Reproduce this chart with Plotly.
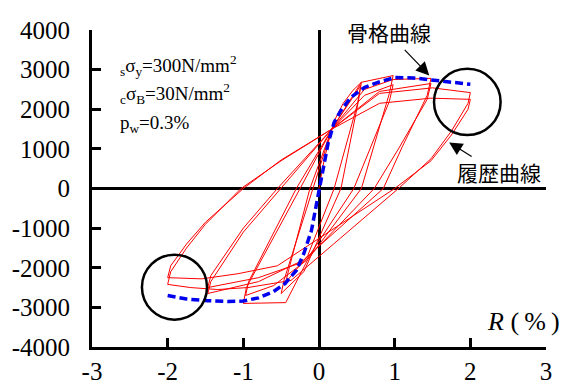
import plotly.graph_objects as go

# Skeleton curve (blue dashed)
R_skeleton = [-2.0, -1.75, -1.47, -1.2, -1.0, -0.8, -0.6, -0.45, -0.3, -0.2, -0.1, -0.04, 0.0,
              0.05, 0.12, 0.2, 0.29, 0.42, 0.6, 0.78, 1.0, 1.25, 1.48, 1.75, 2.0]
M_skeleton = [-2700, -2790, -2830, -2850, -2840, -2760, -2600, -2400, -2070, -1640, -1060, -480, 0,
              500, 1140, 1670, 1970, 2300, 2550, 2680, 2800, 2790, 2740, 2690, 2630]

# Hysteresis curve (red), read in loading order
R_hyst = [0.0, 0.05, 0.12, 0.2, 0.32, 0.45, 0.56,
          0.52, 0.29, -0.05, -0.2, -0.5,
          -0.46, -0.08, 0.17, 0.55,
          0.51, 0.2, -0.15, -0.44,
          -0.4, -0.12, 0.17, 0.56, 0.98,
          0.93, 0.56, -0.15, -0.44, -1.0,
          -0.96, -0.25, 0.17, 0.6, 0.98,
          0.93, 0.46, -0.17, -0.6, -0.97,
          -0.93, -0.3, 0.17, 0.6, 0.98, 1.48,
          1.43, 1.1, 0.85, -0.2, -0.8, -1.47,
          -1.43, -1.0, -0.5, 0.17, 0.8, 1.48,
          1.43, 1.05, 0.73, -0.2, -0.8, -1.47,
          -1.43, -1.0, -0.55, 0.17, 0.8, 1.5, 2.0,
          1.97, 1.75, 1.48, 1.05, -0.37, -0.94, -1.34, -1.7, -2.0,
          -1.96, -1.75, -1.5, -1.03, -0.5, 0.17, 0.8, 1.48, 2.0,
          1.97, 1.75, 1.48, 1.0, -0.55, -1.07, -1.55, -2.0,
          -1.96, -1.75, -1.5, -1.0, -0.5, 0.17]
M_hyst = [0, 550, 1150, 1700, 2150, 2480, 2680,
          2200, 0, -1450, -2100, -2650,
          -2300, 0, 1500, 2600,
          2150, 0, -1700, -2370,
          -2050, 0, 1500, 2680, 2850,
          2400, 0, -1800, -2880, -2900,
          -2500, 0, 1500, 2350, 2620,
          2200, 0, -1820, -2450, -2700,
          -2350, 0, 1500, 2500, 2750, 2780,
          2350, 1050, 0, -1800, -2350, -2650,
          -2350, -1100, 0, 1500, 2450, 2650,
          2250, 1000, 0, -1850, -2250, -2500,
          -2200, -1000, 0, 1500, 2400, 2540, 2420,
          2150, 1450, 750, 0, -2320, -2500, -2550, -2500, -2420,
          -2100, -1500, -900, 0, 700, 1500, 2150, 2280, 2250,
          2000, 1350, 700, 0, -1950, -2150, -2280, -2250,
          -1950, -1400, -850, 0, 720, 1500]

x_ticks = [-3, -2, -1, 0, 1, 2, 3]
x_ticktext = ["-3", "-2", "-1", "0", "1", "2", "3"]
y_ticks = [-4000, -3000, -2000, -1000, 0, 1000, 2000, 3000, 4000]
y_ticktext = ["-4000", "-3000", "-2000", "-1000", "0", "1000", "2000", "3000", "4000"]

SERIF = "Liberation Serif, Times New Roman, serif"
JP = "Noto Sans CJK JP"

fig = go.Figure()
fig.add_trace(go.Scatter(x=R_hyst, y=M_hyst, mode="lines",
                         line=dict(color="#ff0000", width=1), hoverinfo="skip"))
fig.add_trace(go.Scatter(x=R_skeleton, y=M_skeleton, mode="lines",
                         line=dict(color="#0000ee", width=3.5, dash="8px,4px"), hoverinfo="skip"))

axis_common = dict(showgrid=False, ticks="inside", ticklen=9, tickwidth=3, tickcolor="black",
                   showline=True, linewidth=3, linecolor="black", mirror=False, automargin=False,
                   zeroline=True, zerolinewidth=3, zerolinecolor="black",
                   tickfont=dict(family=SERIF, size=25, color="black"))

fig.update_layout(
    width=565, height=385, margin=dict(l=92, r=19, t=30, b=38, autoexpand=False),
    font=dict(family=SERIF, color="black"),
    paper_bgcolor="white", plot_bgcolor="white", showlegend=False,
    xaxis=dict(range=[-3, 3], tickvals=x_ticks, ticktext=x_ticktext, ticklabelstandoff=0, **axis_common),
    yaxis=dict(range=[-4000, 4000], tickvals=y_ticks, ticktext=y_ticktext, ticklabelstandoff=14, **axis_common),
)

# circles
fig.add_shape(type="circle", xref="x", yref="y", x0=1.52, x1=2.40, y0=1350, y1=3020,
              line=dict(color="black", width=2.5))
fig.add_shape(type="circle", xref="x", yref="y", x0=-2.34, x1=-1.48, y0=-3310, y1=-1670,
              line=dict(color="black", width=2.5))

ann = [
    dict(x=-2.09, y=4116, text="<i>M(kNm)</i>", font=dict(family=SERIF, size=26)),
    dict(x=-2.65, y=3106, text="<sub>s</sub>σ<sub>y</sub>=300N/mm<sup>2</sup>", xanchor="left",
         font=dict(family=SERIF, size=19)),
    dict(x=-2.65, y=2399, text="<sub>c</sub>σ<sub>B</sub>=30N/mm<sup>2</sup>", xanchor="left",
         font=dict(family=SERIF, size=19)),
    dict(x=-2.65, y=1616, text="p<sub>w</sub>=0.3%", xanchor="left",
         font=dict(family=SERIF, size=19)),
    dict(x=0.93, y=3939, text="骨格曲線", font=dict(family=JP, size=21)),
    dict(x=2.38, y=429, text="履歴曲線", font=dict(family=JP, size=21)),
]
for a in ann:
    a.setdefault("xanchor", "center")
    a["font"]["color"] = "black"
    fig.add_annotation(xref="x", yref="y", showarrow=False, **a)

fig.add_annotation(xref="paper", yref="paper", x=1.035, y=0.079, xanchor="right", yanchor="middle",
                   showarrow=False, text="<i>R</i> (\u2009%\u2009)",
                   font=dict(family=SERIF, size=26, color="black"))

# arrows
fig.add_annotation(xref="x", yref="y", x=1.457, y=2854, ax=-26, ay=-27, text="",
                   showarrow=True, arrowhead=2, arrowsize=2.2, arrowwidth=1.2, arrowcolor="black")
fig.add_annotation(xref="x", yref="y", x=1.72, y=1162, ax=24, ay=15, text="",
                   showarrow=True, arrowhead=2, arrowsize=2.2, arrowwidth=1.2, arrowcolor="black")

fig.write_html("out.html")
